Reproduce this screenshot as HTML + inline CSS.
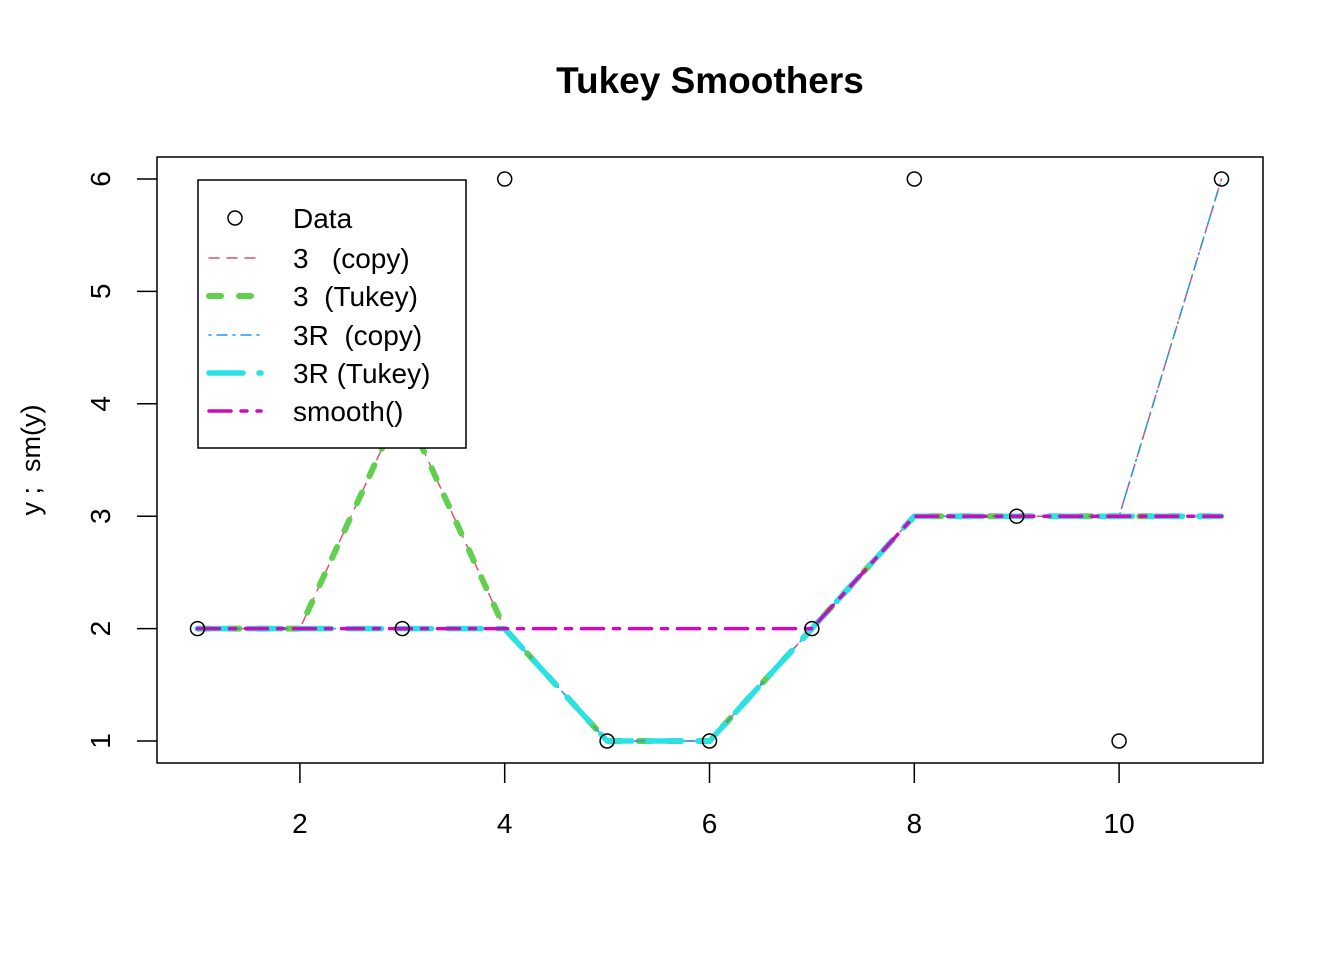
<!DOCTYPE html>
<html><head><meta charset="utf-8"><style>
body{margin:0;background:#fff}
svg text{font-family:"Liberation Sans",Arial,sans-serif;white-space:pre}
</style></head><body>
<svg id="chart" width="1344" height="960" xml:space="preserve">
<text x="710" y="93" text-anchor="middle" font-size="37" font-weight="bold">Tukey Smoothers</text>
<text transform="translate(40,460) rotate(-90)" text-anchor="middle" font-size="27">y ;  sm(y)</text>
<rect x="157" y="157" width="1106" height="606" fill="none" stroke="#000" stroke-width="1.5"/>
<g id="axes"></g><g id="series"></g><g id="points"></g>
<g id="legend"></g>
</svg>
<script>
const xs=[1,2,3,4,5,6,7,8,9,10,11];
const yData=[2,4,2,6,1,1,2,6,3,1,6];
const y3copy=[2,2,4,2,1,1,2,3,3,3,6];
const y3tukey=[2,2,4,2,1,1,2,3,3,3,3];
const y3Rcopy=[2,2,2,2,1,1,2,3,3,3,6];
const y3Rtukey=[2,2,2,2,1,1,2,3,3,3,3];
const ySmooth=[2,2,2,2,2,2,2,3,3,3,3];
const xTicks=[2,4,6,8,10];
const yTicks=[1,2,3,4,5,6];
const legendLabels=["Data","3   (copy)","3  (Tukey)","3R  (copy)","3R (Tukey)","smooth()"];
const NS="http://www.w3.org/2000/svg";
const X=v=>197.5+(v-1)*102.4;
const Y=v=>741-(v-1)*112.4;
function mk(t,a,p){const e=document.createElementNS(NS,t);for(const k in a)e.setAttribute(k,a[k]);p.appendChild(e);return e;}
const ax=document.getElementById('axes');
xTicks.forEach(t=>{const l=mk('line',{x1:X(t),x2:X(t),y1:763,y2:783,stroke:'#000','stroke-width':1.5},ax);

const tx=mk('text',{x:X(t),y:833,'text-anchor':'middle','font-size':28},ax);tx.textContent=t;
});
yTicks.forEach(t=>{const l=mk('line',{x1:137,x2:157,y1:Y(t),y2:Y(t),stroke:'#000','stroke-width':1.5},ax);

const tx=mk('text',{transform:`translate(110,${Y(t)}) rotate(-90)`,'text-anchor':'middle','font-size':28},ax);tx.textContent=t;
});
const pts=document.getElementById('points');
xs.forEach((x,i)=>{const c=mk('circle',{cx:X(x),cy:Y(yData[i]),r:7,fill:'none',stroke:'#000','stroke-width':1.5},pts);
});
const styles=[
 {d:y3copy,c:'#DF536B',w:1.5,da:'10 8',n:'line-3-copy'},
 {d:y3tukey,c:'#61D04F',w:6,da:'12 18',n:'line-3-tukey'},
 {d:y3Rcopy,c:'#2297E6',w:1.5,da:'2 6 10 6',n:'line-3r-copy'},
 {d:y3Rtukey,c:'#28E2E5',w:5.5,da:'34 16',n:'line-3r-tukey'},
 {d:ySmooth,c:'#CD0BBC',w:3.5,da:'22 10 6 10',n:'line-smooth'}];
const sg=document.getElementById('series');
styles.forEach(s=>{const p=mk('polyline',{points:xs.map((x,i)=>X(x)+','+Y(s.d[i])).join(' '),fill:'none',stroke:s.c,'stroke-width':s.w,'stroke-dasharray':s.da,'stroke-linecap':'round'},sg);
});
const lg=document.getElementById('legend');
mk('rect',{x:198,y:180,width:268,height:268,fill:'#fff',stroke:'#000','stroke-width':1.5},lg);
const ly=[218,258,296,335,373,411];
legendLabels.forEach((lab,i)=>{
 if(i==0){const c=mk('circle',{cx:235,cy:ly[0],r:7,fill:'none',stroke:'#000','stroke-width':1.5},lg);
  }
 else{const s=styles[i-1];const l=mk('line',{x1:209,x2:261,y1:ly[i],y2:ly[i],stroke:s.c,'stroke-width':s.w,'stroke-dasharray':s.da,'stroke-linecap':'round'},lg);
  }
 const t=mk('text',{x:293,y:ly[i]+10,'font-size':28},lg);t.textContent=lab;
 });
</script>
</body></html>
